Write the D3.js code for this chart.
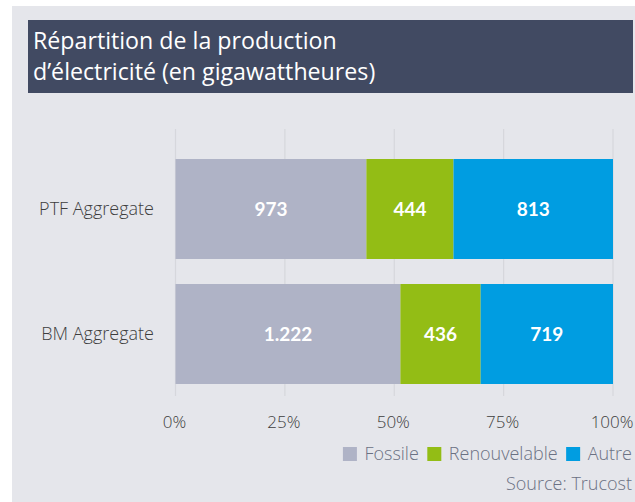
<!DOCTYPE html>
<html>
<head>
<meta charset="utf-8">
<script src="https://cdn.jsdelivr.net/npm/d3@7"></script>
<style>
  body { margin: 0; background: #fff; }
  svg { display: block; font-family: "Open Sans", sans-serif; }
</style>
</head>
<body>
<div id="chart"></div>
<script>
const categories = ["PTF Aggregate", "BM Aggregate"];
const seriesNames = ["Fossile", "Renouvelable", "Autre"];
const fossile = [973, 1222];
const renouvelable = [444, 436];
const autre = [813, 719];
const valueLabels = [["973", "444", "813"], ["1.222", "436", "719"]];
const tickValues = [0, 0.25, 0.5, 0.75, 1];
const colors = ["#afb3c6", "#93bd15", "#009de1"];

const width = 635, height = 502;
const svg = d3.select("#chart").append("svg")
  .attr("width", width).attr("height", height);

// panel + title
svg.append("rect").attr("x", 12).attr("y", 6).attr("width", width - 12).attr("height", height - 6)
  .attr("fill", "#e5e6eb");
svg.append("rect").attr("x", 28).attr("y", 20).attr("width", 605).attr("height", 73)
  .attr("fill", "#414a62");
const title = svg.append("g").attr("fill", "#fff").attr("font-size", 23.2).attr("font-weight", 500);
title.append("text").attr("x", 33).attr("y", 48.5).text("Répartition de la production");
title.append("text").attr("x", 33).attr("y", 80).text("d’électricité (en gigawattheures)");

const rows = categories.map((c, i) => {
  const vals = [fossile[i], renouvelable[i], autre[i]];
  const total = d3.sum(vals);
  let acc = 0;
  return vals.map((v, j) => {
    const seg = { cat: c, j, x0: acc / total, x1: (acc + v) / total, label: valueLabels[i][j] };
    acc += v;
    return seg;
  });
});

const x = d3.scaleLinear().domain([0, 1]).range([175.5, 613]);
const y = d3.scaleBand().domain(categories).range([159, 384]).paddingInner(0.2).paddingOuter(0);

// gridlines
svg.append("g").selectAll("line").data(tickValues).join("line")
  .attr("x1", d => x(d)).attr("x2", d => x(d))
  .attr("y1", 129).attr("y2", 396)
  .attr("stroke", "#d6d7dc").attr("stroke-width", 1.2);

// bars
const g = svg.append("g");
rows.forEach(segs => {
  g.append("g").selectAll("rect").data(segs).join("rect")
    .attr("x", d => x(d.x0)).attr("width", d => x(d.x1) - x(d.x0))
    .attr("y", d => y(d.cat)).attr("height", y.bandwidth())
    .attr("fill", d => colors[d.j]);
  g.append("g").selectAll("text").data(segs).join("text")
    .attr("x", d => (x(d.x0) + x(d.x1)) / 2)
    .attr("y", d => y(d.cat) + y.bandwidth() / 2)
    .attr("dy", "0.36em").attr("text-anchor", "middle")
    .attr("fill", "#fff").attr("font-weight", 700).attr("font-size", 19)
    .attr("font-family", "Lato, sans-serif")
    .text(d => d.label);
});

// category labels
svg.append("g").selectAll("text").data(categories).join("text")
  .attr("x", 154).attr("y", d => y(d) + y.bandwidth() / 2)
  .attr("dy", "0.36em").attr("text-anchor", "end")
  .attr("fill", "#3d3d3d").attr("font-size", 18).attr("font-weight", 300)
  .text(d => d);

// x axis labels
const axis = svg.append("g").attr("transform", "translate(-1.5,421.5)")
  .call(d3.axisBottom(x).tickValues(tickValues).tickFormat(d3.format(".0%")).tickSize(0).tickPadding(0));
axis.select(".domain").remove();
axis.selectAll("text").attr("font-size", 17).attr("font-weight", 300)
  .attr("fill", "#3d3d3d").attr("dy", "0.36em")
  .attr("font-family", "'Open Sans', sans-serif")
  .attr("text-anchor", (d, i) => i === tickValues.length - 1 ? "end" : "middle")
  .attr("dx", (d, i) => i === tickValues.length - 1 ? 21.5 : 0);

// legend (right aligned)
const legend = svg.append("g").attr("transform", "translate(0,454)");
let lx = 632;
const items = seriesNames.map((n, i) => ({ n, i })).reverse();
items.forEach(it => {
  const t = legend.append("text").attr("x", lx).attr("dy", "0.36em").attr("text-anchor", "end")
    .attr("font-size", 18).attr("font-weight", 300).attr("fill", "#6b7183").text(it.n);
  const w = t.node().getComputedTextLength();
  lx -= w + 7.5;
  legend.append("rect").attr("x", lx - 14).attr("y", -7).attr("width", 14).attr("height", 14)
    .attr("fill", colors[it.i]);
  lx -= 14 + 8.5;
});

svg.append("text").attr("x", 632).attr("y", 483.5).attr("dy", "0.36em").attr("text-anchor", "end")
  .attr("font-size", 18).attr("font-weight", 300).attr("fill", "#6b7183").text("Source: Trucost");
</script>
</body>
</html>
